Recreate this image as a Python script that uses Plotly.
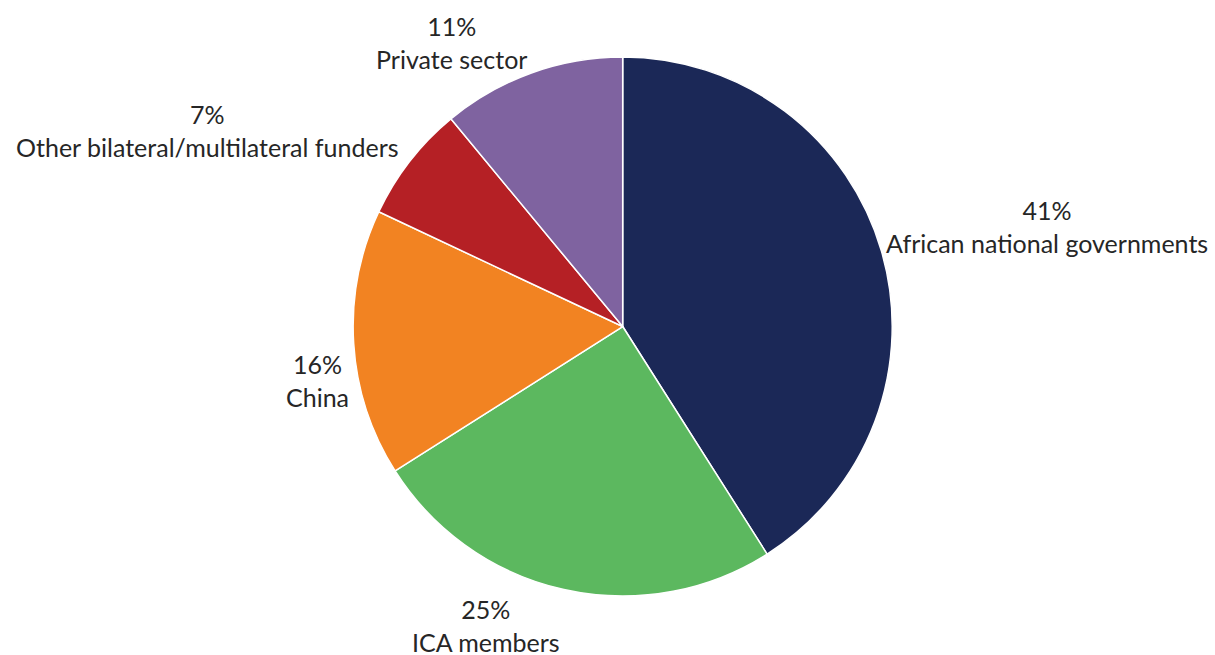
import plotly.graph_objects as go

# Funding sources (share of total, %)
sources = [
    "African national governments",
    "ICA members",
    "China",
    "Other bilateral/multilateral funders",
    "Private sector",
]
shares = [41, 25, 16, 7, 11]
colors = ["#1B2857", "#5CB85F", "#F28322", "#B52025", "#7F63A0"]

W, H = 1215, 655

# Label block centres, in pixels from the top-left corner of the figure
label_pos = [(1047, 227), (486, 625), (317, 380), (207, 131), (451, 43)]

fig = go.Figure(
    go.Pie(
        labels=sources,
        values=shares,
        sort=False,
        direction="clockwise",
        rotation=0,
        marker=dict(colors=colors, line=dict(color="white", width=1.5)),
        textinfo="none",
        hoverinfo="label+percent",
        showlegend=False,
        domain=dict(x=[0.29, 0.735], y=[0.09, 0.913]),
    )
)

for name, share, (px, py) in zip(sources, shares, label_pos):
    fig.add_annotation(
        x=px / W,
        y=1 - py / H,
        xref="paper",
        yref="paper",
        xanchor="center",
        yanchor="middle",
        align="center",
        showarrow=False,
        text=f"{share}%<br>{name}",
        font=dict(family="Lato", size=25, color="#262626"),
    )

fig.update_layout(
    width=W,
    height=H,
    margin=dict(l=0, r=0, t=0, b=0),
    paper_bgcolor="white",
    plot_bgcolor="white",
)

fig.write_html("out.html")
